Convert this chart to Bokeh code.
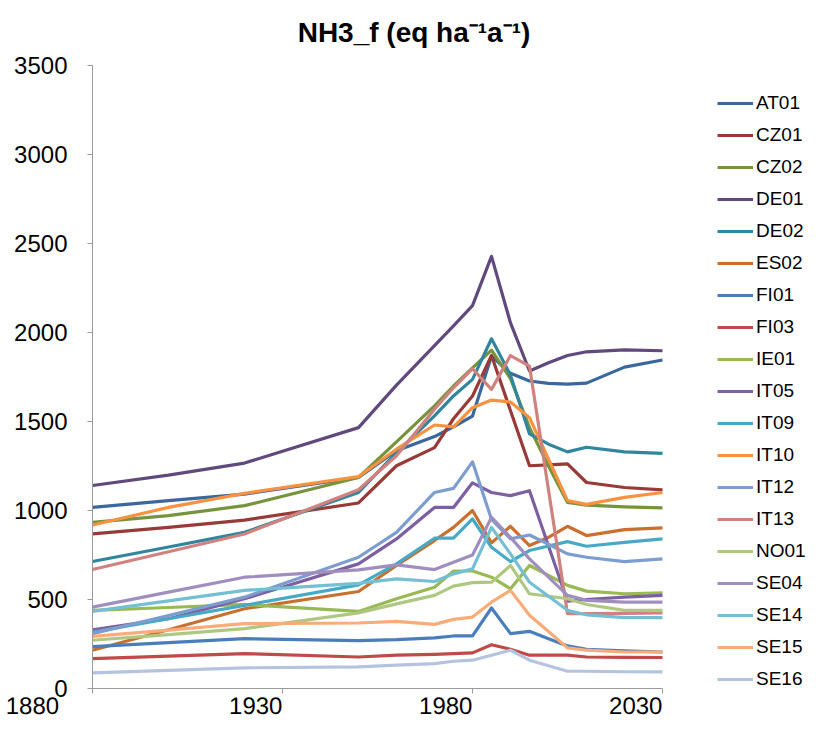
from bokeh.plotting import figure
from bokeh.models import Range1d, FixedTicker, Legend, LegendItem, Label
from bokeh.embed import file_html
from bokeh.resources import INLINE

# ---------------- data ----------------
years = [1880, 1900, 1920, 1950, 1960, 1970, 1975, 1980, 1985, 1990,
         1995, 2000, 2005, 2010, 2020, 2030]

AT01 = [1017, 1055, 1092, 1185, 1335, 1415, 1470, 1530, 1867, 1770, 1727, 1714, 1710, 1715, 1805, 1845]
CZ01 = [868, 905, 946, 1042, 1251, 1353, 1515, 1643, 1870, 1560, 1251, 1256, 1262, 1157, 1129, 1116]
CZ02 = [933, 971, 1027, 1185, 1385, 1587, 1699, 1801, 1900, 1740, 1465, 1250, 1045, 1030, 1020, 1014]
DE01 = [1140, 1198, 1266, 1465, 1704, 1926, 2037, 2150, 2427, 2053, 1783, 1829, 1870, 1891, 1902, 1897]
DE02 = [713, 795, 877, 1101, 1325, 1531, 1643, 1736, 1964, 1760, 1430, 1372, 1329, 1355, 1329, 1320]
ES02 = [215, 330, 448, 545, 691, 831, 905, 1000, 818, 911, 803, 849, 911, 859, 892, 902]
FI01 = [235, 258, 280, 269, 274, 284, 295, 295, 452, 308, 321, 280, 239, 220, 211, 205]
FI03 = [168, 182, 196, 177, 187, 192, 196, 200, 246, 220, 187, 187, 187, 177, 175, 174]
IE01 = [439, 455, 472, 433, 504, 569, 660, 660, 625, 560, 691, 635, 579, 547, 532, 537]
IT05 = [330, 392, 504, 700, 840, 1017, 1017, 1155, 1101, 1083, 1111, 800, 491, 500, 513, 523]
IT09 = [317, 392, 467, 582, 700, 844, 844, 952, 793, 713, 775, 800, 825, 799, 821, 840]
IT10 = [918, 1017, 1096, 1190, 1344, 1480, 1469, 1577, 1620, 1609, 1521, 1288, 1055, 1034, 1073, 1101]
IT12 = [308, 410, 513, 737, 877, 1101, 1124, 1273, 950, 840, 862, 810, 756, 737, 713, 728]
IT13 = [668, 768, 868, 1116, 1307, 1568, 1689, 1796, 1680, 1870, 1811, 1115, 420, 420, 422, 425]
NO01 = [271, 303, 336, 425, 475, 523, 575, 595, 597, 691, 532, 518, 504, 472, 439, 439]
SE04 = [457, 541, 625, 666, 694, 668, 709, 750, 961, 849, 728, 625, 523, 495, 485, 485]
SE14 = [433, 492, 551, 590, 616, 601, 644, 672, 905, 756, 597, 518, 439, 414, 398, 398]
SE15 = [293, 328, 364, 368, 377, 360, 388, 401, 485, 551, 411, 320, 228, 215, 205, 205]
SE16 = [88, 102, 116, 121, 131, 140, 153, 159, 187, 215, 159, 128, 97, 97, 94, 93]

names = ["AT01", "CZ01", "CZ02", "DE01", "DE02", "ES02", "FI01", "FI03", "IE01",
         "IT05", "IT09", "IT10", "IT12", "IT13", "NO01", "SE04", "SE14", "SE15", "SE16"]
series = [AT01, CZ01, CZ02, DE01, DE02, ES02, FI01, FI03, IE01,
          IT05, IT09, IT10, IT12, IT13, NO01, SE04, SE14, SE15, SE16]
colors = ["#3A679C", "#983A37", "#77933C", "#604A7B", "#31859C", "#C8702F",
          "#4A7EBB", "#BE4B48", "#98B954", "#7D60A0", "#46AAC5", "#F69240",
          "#7E9DCF", "#D0827F", "#AEC882", "#A08EBF", "#74BFD4", "#F9AC78", "#B4C3DE"]

x_start, x_end = 1880, 2030
y_start, y_end = 0, 3500
x_ticks = [1880, 1930, 1980, 2030]
y_ticks = [0, 500, 1000, 1500, 2000, 2500, 3000, 3500]
title_text = "NH3_f (eq ha\u207b\u00b9a\u207b\u00b9)"

FONT = "Liberation Sans"
AXIS_COLOR = "#9A9A9A"

# ---------------- layout ----------------
W, H = 827, 735
LEFT, RIGHT_AXIS_END, TOP, BOTTOM = 92, 662, 65, 690
px_per_year = (RIGHT_AXIS_END - LEFT) / (x_end - x_start)
px_per_unit = (BOTTOM - TOP) / (y_end - y_start)
# the frame runs to the right and top edges so that legend and title can sit
# inside it; the axis lines themselves are bounded to the data extent
x_view_end = x_start + (W - LEFT) / px_per_year
y_view_end = y_start + BOTTOM / px_per_unit

p = figure(width=W, height=H, output_backend="svg", toolbar_location=None,
           title=None,
           x_range=Range1d(x_start, x_view_end), y_range=Range1d(y_start, y_view_end),
           min_border_left=LEFT, min_border_right=0, min_border_top=0,
           min_border_bottom=H - BOTTOM)
p.outline_line_color = None
p.grid.visible = False
p.background_fill_color = "white"
p.border_fill_color = "white"

# axes
p.yaxis.ticker = FixedTicker(ticks=y_ticks)
p.yaxis.bounds = (y_start, y_end)
p.yaxis.major_label_standoff = 20
p.xaxis.ticker = FixedTicker(ticks=x_ticks)
p.xaxis.bounds = (x_start, x_end)
p.xaxis.major_label_orientation = 0.0005   # labels end at their tick
p.xaxis.major_label_standoff = 12
# first label is pushed left, clear of the "0" label, as in the reference
p.xaxis.major_label_overrides = {1880: "1880" + "\u00a0" * 5}
for ax in (p.xaxis, p.yaxis):
    ax.axis_line_color = AXIS_COLOR
    ax.major_tick_line_color = AXIS_COLOR
    ax.major_tick_in = 0
    ax.major_tick_out = 5
    ax.minor_tick_line_color = None
    ax.major_label_text_font = FONT
    ax.major_label_text_font_size = "24px"
    ax.major_label_text_color = "#000000"

# lines
items = []
for name, vals, col in zip(names, series, colors):
    r = p.line(years, vals, line_color=col, line_width=3.2, line_join="round")
    items.append(LegendItem(label=name, renderers=[r]))

legend = Legend(items=items, location=(625, -2), padding=0, margin=0,
                spacing=10, glyph_width=36, glyph_height=22, label_height=22,
                label_standoff=3, label_text_font=FONT,
                label_text_font_size="19px", label_text_color="#000000",
                border_line_color=None, background_fill_alpha=0)
p.add_layout(legend)

# title (centred on the whole picture, baseline ~32 px from the top)
p.add_layout(Label(x=x_start + (W / 2 - LEFT) / px_per_year,
                   y=y_end + (TOP - 32) / px_per_unit,
                   text=title_text, text_align="center", text_baseline="alphabetic",
                   text_font=FONT, text_font_style="bold", text_font_size="28px",
                   text_color="#000000"))

open("out.html", "w").write(file_html(p, INLINE))
